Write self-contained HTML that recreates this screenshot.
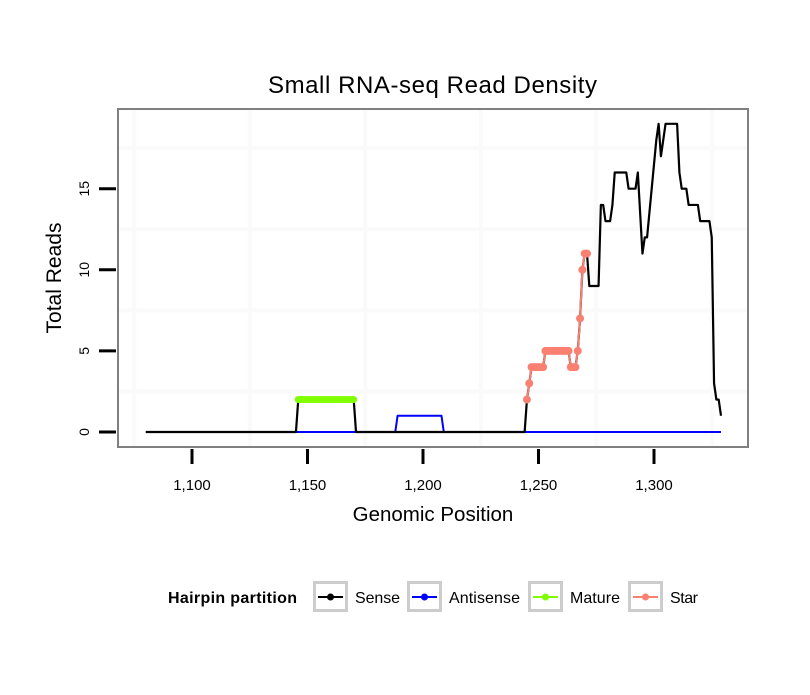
<!DOCTYPE html>
<html><head><meta charset="utf-8"><style>
body{margin:0;background:#fff}
svg text{font-family:"Liberation Sans",sans-serif}
</style></head><body>
<svg width="810" height="690" viewBox="0 0 810 690">
<text x="432.5" y="93" text-anchor="middle" font-size="24" textLength="329">Small RNA-seq Read Density</text>
<g id="grid"></g>
<g id="series"></g>
<rect x="118" y="109" width="630" height="338" fill="none" stroke="#808080" stroke-width="2"/>
<g id="axes"></g>
<text x="433" y="521" text-anchor="middle" font-size="20.5">Genomic Position</text>
<text transform="translate(61,278) rotate(-90)" text-anchor="middle" font-size="21">Total Reads</text>
<g>
<text x="168" y="603" font-size="16" font-weight="bold" textLength="129">Hairpin partition</text>
<g id="legend"></g>
</g>
</svg>
<script>
const xTicks=[1100,1150,1200,1250,1300];
const xTickLabels=["1,100","1,150","1,200","1,250","1,300"];
const yTicks=[0,5,10,15];
const yTickLabels=["0","5","10","15"];
const sensePos=[1080,1145,1146,1170,1171,1244,1245,1246,1247,1252,1253,1263,1264,1266,1267,1268,1269,1270,1271,1272,1276,1277,1278,1279,1281,1282,1283,1288,1289,1292,1293,1295,1296,1297,1301,1302,1303,1304,1305,1310,1311,1312,1314,1315,1319,1320,1324,1325,1326,1327,1328,1329];
const senseVal=[0,0,2,2,0,0,2,3,4,4,5,5,4,4,5,7,10,11,11,9,9,14,14,13,13,14,16,16,15,15,16,11,12,12,18,19,17,18,19,19,16,15,15,14,14,13,13,12,3,2,2,1];
const antiPos=[1080,1188,1189,1208,1209,1329];
const antiVal=[0,0,1,1,0,0];
const maturePos=[1146,1147,1148,1149,1150,1151,1152,1153,1154,1155,1156,1157,1158,1159,1160,1161,1162,1163,1164,1165,1166,1167,1168,1169,1170];
const matureVal=[2,2,2,2,2,2,2,2,2,2,2,2,2,2,2,2,2,2,2,2,2,2,2,2,2];
const starPos=[1245,1246,1247,1248,1249,1250,1251,1252,1253,1254,1255,1256,1257,1258,1259,1260,1261,1262,1263,1264,1265,1266,1267,1268,1269,1270,1271];
const starVal=[2,3,4,4,4,4,4,4,5,5,5,5,5,5,5,5,5,5,5,4,4,4,5,7,10,11,11];
const legendLabels=["Sense","Antisense","Mature","Star"];
const legendColors=["#000","#0000ff","#7fff00","#fa8072"];

const X=p=>192+(p-1100)*2.31;
const Y=v=>432-v*16.22;
const NS="http://www.w3.org/2000/svg";
function mk(tag,parent,attrs){const e=document.createElementNS(NS,tag);for(const k in attrs)e.setAttribute(k,attrs[k]);parent.appendChild(e);return e;}
const grid=document.getElementById('grid'),axes=document.getElementById('axes'),series=document.getElementById('series'),legend=document.getElementById('legend');
for(let p=1075;p<=1325;p+=50){const g=mk('line',grid,{x1:X(p),x2:X(p),y1:110,y2:446,stroke:'#fafafa','stroke-width':4});

}
for(let v=2.5;v<=17.5;v+=5){const g=mk('line',grid,{x1:119,x2:747,y1:Y(v),y2:Y(v),stroke:'#fafafa','stroke-width':4});

}
xTicks.forEach((t,i)=>{const l=mk('line',axes,{x1:X(t),x2:X(t),y1:449,y2:464,stroke:'#000','stroke-width':3});


const tx=mk('text',axes,{x:X(t),y:490,'text-anchor':'middle','font-size':15});tx.textContent=xTickLabels[i];

});
yTicks.forEach((t,i)=>{const l=mk('line',axes,{x1:99,x2:116,y1:Y(t),y2:Y(t),stroke:'#000','stroke-width':3});


const tx=mk('text',axes,{transform:`translate(89,${Y(t)}) rotate(-90)`,'text-anchor':'middle','font-size':14});tx.textContent=yTickLabels[i];

});
function line(pos,val,color,w,name){const d=pos.map((p,i)=>(i?'L':'M')+X(p)+','+Y(val[i])).join('');
const e=mk('path',series,{d:d,fill:'none',stroke:color,'stroke-width':w,'stroke-linejoin':'round'});

}
function pts(pos,val,color,r,name){pos.forEach((p,i)=>{const c=mk('circle',series,{cx:X(p),cy:Y(val[i]),r:r,fill:color});

});}
line(antiPos,antiVal,'#0000ff',2,'antisense-line');
line(sensePos,senseVal,'#000',2.2,'sense-line');
line(maturePos,matureVal,'#7fff00',5,'mature-line');
pts(maturePos,matureVal,'#7fff00',3.5,'mature-point');
line(starPos,starVal,'#fa8072',2,'star-line');
pts(starPos,starVal,'#fa8072',4,'star-point');
const lx=[313,407,528,628],tX=[355,449,570,670],tW=[45,71,50,28];
legendLabels.forEach((lab,i)=>{const g=mk('g',legend,{});


mk('rect',g,{x:lx[i]+1.5,y:582.5,width:32,height:28,fill:'#fff',stroke:'#ccc','stroke-width':3});
mk('line',g,{x1:lx[i]+5,x2:lx[i]+30,y1:597,y2:597,stroke:legendColors[i],'stroke-width':2});
mk('circle',g,{cx:lx[i]+17.5,cy:597,r:3.5,fill:legendColors[i]});
const t=mk('text',g,{x:tX[i],y:603,'font-size':16,textLength:tW[i]});t.textContent=lab;});
</script>
</body></html>
